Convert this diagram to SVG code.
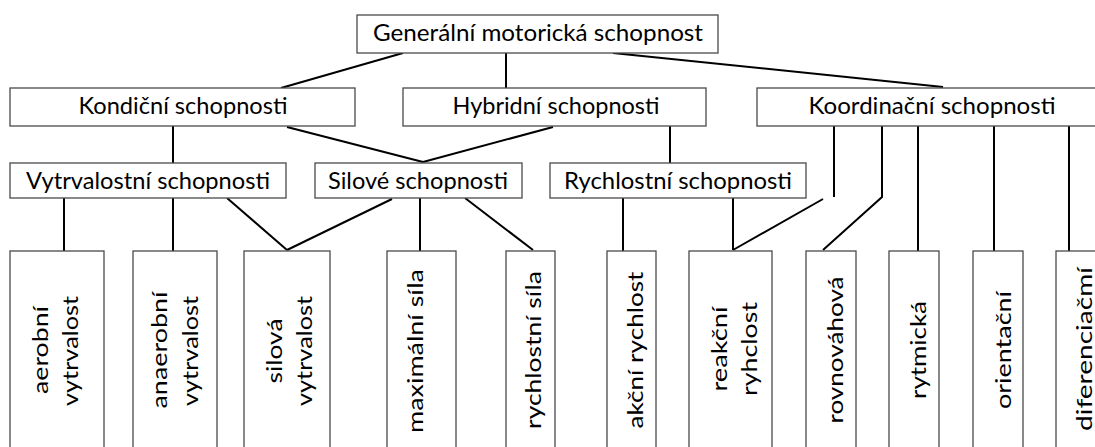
<svg xmlns="http://www.w3.org/2000/svg" width="1095" height="447" viewBox="0 0 1095 447">
<style>
.box{fill:#fff;stroke:#4a4a4a;stroke-width:1.3}
.lbl{font-family:Lato,"Open Sans",sans-serif;font-size:23px;fill:#000;text-anchor:middle}
.vl{font-family:Lato,"Open Sans",sans-serif;font-size:22px;fill:#000;text-anchor:middle}
#connectors line,#connectors polyline{stroke:#000;stroke-width:2;fill:none}
</style>
<rect width="1095" height="447" fill="#fff"/>
<g id="connectors">
<line x1="403" y1="53" x2="281" y2="88"/>
<line x1="506" y1="53" x2="506" y2="88"/>
<line x1="613" y1="53" x2="943" y2="87"/>
<line x1="173" y1="126" x2="173" y2="163"/>
<line x1="287" y1="127" x2="423" y2="162"/>
<line x1="553" y1="127" x2="423" y2="162"/>
<line x1="670" y1="126" x2="670" y2="163"/>
<line x1="64" y1="198" x2="64" y2="251"/>
<line x1="173" y1="198" x2="173" y2="251"/>
<line x1="227" y1="198" x2="287" y2="250"/>
<line x1="392" y1="199" x2="287" y2="250"/>
<line x1="420" y1="198" x2="420" y2="251"/>
<line x1="465" y1="198" x2="533" y2="250"/>
<line x1="623" y1="198" x2="623" y2="251"/>
<line x1="733" y1="198" x2="733" y2="250"/>
<line x1="823" y1="199" x2="733" y2="250"/>
<line x1="834" y1="126" x2="834" y2="197"/>
<polyline points="882,126 882,197 823,250"/>
<line x1="918" y1="126" x2="918" y2="251"/>
<line x1="994" y1="126" x2="994" y2="251"/>
<line x1="1069" y1="126" x2="1069" y2="251"/>
</g>
<g id="n-general"><rect class="box" x="357" y="15" width="361" height="38"/><text class="lbl" x="538" y="41" textLength="330" lengthAdjust="spacingAndGlyphs">Generální motorická schopnost</text></g>
<g id="n-kondicni"><rect class="box" x="10" y="88" width="345" height="38"/><text class="lbl" x="183" y="114" textLength="209" lengthAdjust="spacingAndGlyphs">Kondiční schopnosti</text></g>
<g id="n-hybridni"><rect class="box" x="403" y="88" width="303" height="38"/><text class="lbl" x="556" y="114" textLength="207" lengthAdjust="spacingAndGlyphs">Hybridní schopnosti</text></g>
<g id="n-koordinacni"><rect class="box" x="757" y="88" width="353" height="38"/><text class="lbl" x="932" y="114" textLength="247" lengthAdjust="spacingAndGlyphs">Koordinační schopnosti</text></g>
<g id="n-vytrvalostni"><rect class="box" x="10" y="163" width="276" height="35"/><text class="lbl" x="148" y="189" textLength="244" lengthAdjust="spacingAndGlyphs">Vytrvalostní schopnosti</text></g>
<g id="n-silove"><rect class="box" x="315" y="163" width="207" height="35"/><text class="lbl" x="418" y="189" textLength="180" lengthAdjust="spacingAndGlyphs">Silové schopnosti</text></g>
<g id="n-rychlostni"><rect class="box" x="550" y="163" width="256" height="35"/><text class="lbl" x="678" y="189" textLength="228" lengthAdjust="spacingAndGlyphs">Rychlostní schopnosti</text></g>
<g id="n-aerobni"><rect class="box" x="10" y="251" width="94" height="210"/>
<text class="vl" transform="translate(48,350) rotate(-90)" textLength="88" lengthAdjust="spacingAndGlyphs">aerobní</text>
<text class="vl" transform="translate(78,351) rotate(-90)" textLength="110" lengthAdjust="spacingAndGlyphs">vytrvalost</text></g>
<g id="n-anaerobni"><rect class="box" x="133" y="251" width="84" height="210"/>
<text class="vl" transform="translate(167,350) rotate(-90)" textLength="117" lengthAdjust="spacingAndGlyphs">anaerobní</text>
<text class="vl" transform="translate(198,351) rotate(-90)" textLength="110" lengthAdjust="spacingAndGlyphs">vytrvalost</text></g>
<g id="n-silova"><rect class="box" x="244" y="251" width="86" height="210"/>
<text class="vl" transform="translate(282,351) rotate(-90)" textLength="65" lengthAdjust="spacingAndGlyphs">silová</text>
<text class="vl" transform="translate(312,351) rotate(-90)" textLength="110" lengthAdjust="spacingAndGlyphs">vytrvalost</text></g>
<g id="n-maximalni"><rect class="box" x="387" y="251" width="69" height="210"/>
<text class="vl" transform="translate(423,351) rotate(-90)" textLength="164" lengthAdjust="spacingAndGlyphs">maximální síla</text></g>
<g id="n-rychlostni-sila"><rect class="box" x="506" y="251" width="49" height="210"/>
<text class="vl" transform="translate(541,350) rotate(-90)" textLength="158" lengthAdjust="spacingAndGlyphs">rychlostní síla</text></g>
<g id="n-akcni"><rect class="box" x="607" y="251" width="49" height="210"/>
<text class="vl" transform="translate(643,350) rotate(-90)" textLength="157" lengthAdjust="spacingAndGlyphs">akční rychlost</text></g>
<g id="n-reakcni"><rect class="box" x="689" y="251" width="83" height="210"/>
<text class="vl" transform="translate(727,349) rotate(-90)" textLength="85" lengthAdjust="spacingAndGlyphs">reakční</text>
<text class="vl" transform="translate(757,349) rotate(-90)" textLength="94" lengthAdjust="spacingAndGlyphs">ryhclost</text></g>
<g id="n-rovnovahova"><rect class="box" x="806" y="251" width="50" height="210"/>
<text class="vl" transform="translate(843,350) rotate(-90)" textLength="147" lengthAdjust="spacingAndGlyphs">rovnováhová</text></g>
<g id="n-rytmicka"><rect class="box" x="889" y="251" width="50" height="210"/>
<text class="vl" transform="translate(926,350) rotate(-90)" textLength="98" lengthAdjust="spacingAndGlyphs">rytmická</text></g>
<g id="n-orientacni"><rect class="box" x="973" y="251" width="50" height="210"/>
<text class="vl" transform="translate(1011,350) rotate(-90)" textLength="118" lengthAdjust="spacingAndGlyphs">orientační</text></g>
<g id="n-diferenciacmi"><rect class="box" x="1056" y="251" width="60" height="210"/>
<text class="vl" transform="translate(1092,349) rotate(-90)" textLength="164" lengthAdjust="spacingAndGlyphs">diferenciačmí</text></g>
</svg>
